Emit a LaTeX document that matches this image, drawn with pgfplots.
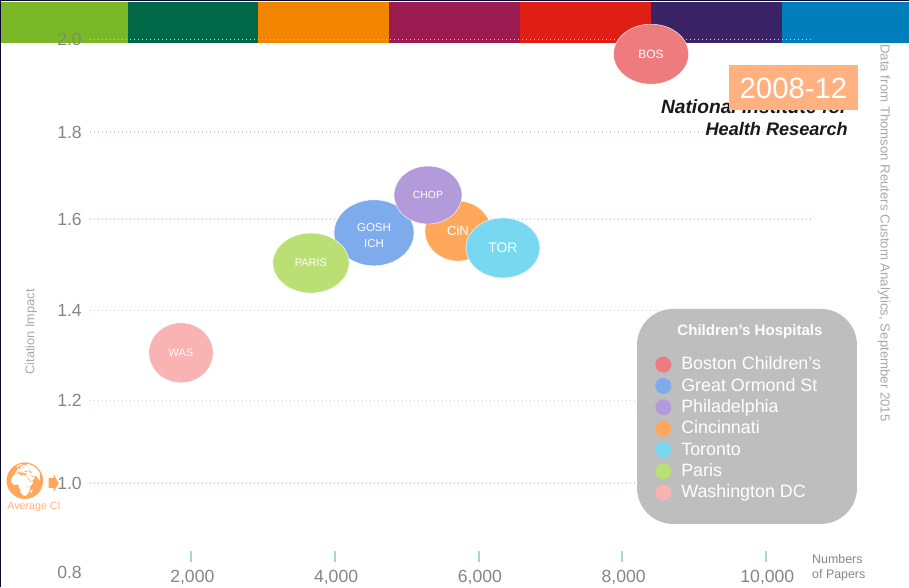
\documentclass[border=0pt]{standalone}
\usepackage{fontspec}
\setmainfont{Liberation Sans}
\newfontfamily\emojifont{Noto Emoji}
\usepackage{pgfplots}
\pgfplotsset{compat=1.18}

\definecolor{bosc}{HTML}{EE7C7E}
\definecolor{goshc}{HTML}{7EABEC}
\definecolor{chopc}{HTML}{B39ADB}
\definecolor{cinc}{HTML}{FFA85C}
\definecolor{torc}{HTML}{78D8F0}
\definecolor{parisc}{HTML}{BAE075}
\definecolor{wasc}{HTML}{F9B3B3}
\definecolor{yeargold}{HTML}{FFB27F}
\definecolor{panel}{HTML}{BEBEBE}
\definecolor{labelgray}{HTML}{858585}
\definecolor{softgray}{HTML}{A8A8A8}
\definecolor{dotline}{HTML}{C4DADA}
\definecolor{tickblue}{HTML}{A8D5DC}
\definecolor{edge}{HTML}{0A0A30}
\definecolor{stripa}{HTML}{7AB828}
\definecolor{stripb}{HTML}{006747}
\definecolor{stripc}{HTML}{F28500}
\definecolor{stripd}{HTML}{991B4F}
\definecolor{stripe}{HTML}{E01F14}
\definecolor{stripf}{HTML}{3B2466}
\definecolor{stripg}{HTML}{007DBB}

% one bubble: colour, x radius / y radius, y radius, label font size
\pgfplotsset{
  bubble/.style n args={4}{
    forget plot, only marks, mark=*, mark size=#3,
    mark options={xscale=#2, fill=#1, draw=white, line width=0.3pt},
    every node near coord/.style={anchor=center, inner sep=0pt, align=center,
      text=white, font=\fontsize{#4}{#4}\selectfont},
  },
  band/.style={forget plot, fill=#1, draw=none},
  gridrow/.style={forget plot, draw=dotline, line width=0.9pt, dash pattern=on 0.8pt off 2.2pt},
}

\begin{document}
\begin{tikzpicture}
\path[use as bounding box] (0,0) rectangle (681.75pt,440.25pt);
\begin{axis}[
    scale only axis,
    width=681.75pt, height=440.25pt,
    xmin=-657, xmax=11989,
    ymin=0.768, ymax=2.0889,
    axis line style={draw=none},
    axis on top,
    major tick length=0pt, minor tick length=0pt,
    clip=false,
    scaled x ticks=false,
    xtick={2000,4000,6000,8000,10000},
    xticklabels={{2,000},{4,000},{6,000},{8,000},{10,000}},
    xticklabel style={font=\fontsize{13.2}{16}\selectfont, text=labelgray, anchor=center, xshift=1pt, yshift=7.5pt, inner sep=0pt},
    ytick={0.8,1.002,1.187,1.391,1.596,1.792,2.0},
    yticklabels={0.8,1.0,1.2,1.4,1.6,1.8,2.0},
    yticklabel style={font=\fontsize{13.2}{16}\selectfont, text=labelgray, anchor=east, xshift=61.5pt, inner sep=0pt},
    xlabel={Numbers\\of Papers},
    xlabel style={at={(axis cs:10639,0.811)}, anchor=west, align=left, inner sep=0pt,
      font=\fontsize{9.3}{11.2}\selectfont, text=labelgray},
    ylabel={Citation Impact},
    ylabel style={at={(axis cs:-226,1.342)}, anchor=center, inner sep=0pt,
      font=\fontsize{9.6}{12}\selectfont, text=softgray},
    unbounded coords=jump,
    legend image code/.code={\fill[draw=none,#1] (0.12cm,1pt) circle (6pt);},
    legend cell align=left,
    legend style={at={(0.7206,0.3952)}, anchor=north west, draw=none, fill=none,
      text=white, font=\fontsize{13.4}{16}\selectfont,
      row sep=0pt, inner sep=0pt,
      nodes={inner sep=0pt, text height=11pt, text depth=5pt}},
]

% colour strip along the top
\addplot[band=stripa] coordinates {(-657,2.0844)(1124,2.0844)(1124,1.992)(-657,1.992)} --cycle;
\addplot[band=stripb] coordinates {(1124,2.0844)(2932,2.0844)(2932,1.992)(1124,1.992)} --cycle;
\addplot[band=stripc] coordinates {(2932,2.0844)(4755,2.0844)(4755,1.992)(2932,1.992)} --cycle;
\addplot[band=stripd] coordinates {(4755,2.0844)(6577,2.0844)(6577,1.992)(4755,1.992)} --cycle;
\addplot[band=stripe] coordinates {(6577,2.0844)(8400,2.0844)(8400,1.992)(6577,1.992)} --cycle;
\addplot[band=stripf] coordinates {(8400,2.0844)(10222,2.0844)(10222,1.992)(8400,1.992)} --cycle;
\addplot[band=stripg] coordinates {(10222,2.0844)(11989,2.0844)(11989,1.992)(10222,1.992)} --cycle;
\addplot[forget plot, draw=edge, line width=1.5pt] coordinates {(-657,0.768)(-657,2.0889)(11989,2.0889)};

% dotted rows
\addplot[gridrow] coordinates {(595,2.0)(10640,2.0)};
\addplot[gridrow] coordinates {(595,1.792)(10640,1.792)};
\addplot[gridrow] coordinates {(595,1.596)(10640,1.596)};
\addplot[gridrow] coordinates {(595,1.391)(10640,1.391)};
\addplot[gridrow] coordinates {(595,1.187)(10640,1.187)};
\addplot[gridrow] coordinates {(595,1.002)(10640,1.002)};

% short marks above the x labels
\addplot[forget plot, draw=tickblue, line width=1.5pt] coordinates {
  (2000,0.849)(2000,0.8245)(3000,nan)
  (4000,0.849)(4000,0.8245)(5000,nan)
  (6000,0.849)(6000,0.8245)(7000,nan)
  (8000,0.849)(8000,0.8245)(9000,nan)
  (10000,0.849)(10000,0.8245)};

% legend panel
\addplot[forget plot, fill=panel, draw=none, rounded corners=27pt] coordinates {
  (9700,1.3937)(11265,1.3937)(11265,0.910)(8205,0.910)(8205,1.3937)} --cycle;
\node[text=white, font=\fontsize{11.3}{14}\bfseries\selectfont, inner sep=0pt] at (axis cs:9777,1.342) {Children's Hospitals};

% hospitals
\addplot[bubble={cinc}{1.1}{22.5pt}{9.8}, nodes near coords={CiN}] coordinates {(5714,1.569)};
\addplot[bubble={goshc}{1.21}{24.75pt}{8.6}, nodes near coords={GOSH\\[3pt]ICH},
  every node near coord/.append style={yshift=-2pt}] coordinates {(4546,1.565)};
\addplot[bubble={chopc}{1.17}{21.75pt}{7.8}, nodes near coords={CHOP}] coordinates {(5297,1.650)};
\addplot[bubble={torc}{1.23}{22.5pt}{10.4}, nodes near coords={TOR}] coordinates {(6340,1.531)};
\addplot[bubble={parisc}{1.27}{22.5pt}{8.2}, nodes near coords={PARIS}] coordinates {(3669,1.497)};
\addplot[bubble={wasc}{1.07}{22.5pt}{8.2}, nodes near coords={WAS}] coordinates {(1861,1.295)};
\addplot[bubble={bosc}{1.25}{22.5pt}{9}, nodes near coords={BOS}] coordinates {(8400,1.967)};

% logo and year tag
\node[anchor=base east, inner sep=0pt, font=\fontsize{14.4}{16}\bfseries\itshape\selectfont, text=black!90]
  at (axis cs:11140,1.8324) {National Institute for};
\node[anchor=base east, inner sep=0pt, font=\fontsize{13.6}{16}\bfseries\itshape\selectfont, text=black!90]
  at (axis cs:11140,1.783) {Health Research};
\addplot[forget plot, fill=yeargold, draw=none] coordinates {(9485,1.9426)(11279,1.9426)(11279,1.8414)(9485,1.8414)} --cycle;
\node[text=white, font=\fontsize{22}{26}\selectfont, inner sep=0pt] at (axis cs:10382,1.889) {2008-12};

% source note and average marker
\node[rotate=-90, text=softgray, font=\fontsize{9.9}{12}\selectfont, inner sep=0pt] at (axis cs:11641,1.5647)
  {Data from Thomson Reuters Custom Analytics, September 2015};
\node[text=yeargold, font=\fontsize{8}{10}\selectfont, inner sep=0pt] at (axis cs:-184,0.948) {Average CI};
\node[text=cinc, font=\emojifont\fontsize{27}{27}\selectfont, inner sep=0pt] at (axis cs:-310,1.007) {🌍};
\addplot[forget plot, fill=cinc, draw=none] coordinates {(20,1.013)(90,1.013)(90,1.022)(160,1.002)(90,0.982)(90,0.991)(20,0.991)} --cycle;

% legend
\addlegendimage{fill=bosc}\addlegendentry{\hspace{7.5pt}Boston Children's}
\addlegendimage{fill=goshc}\addlegendentry{\hspace{7.5pt}Great Ormond St}
\addlegendimage{fill=chopc}\addlegendentry{\hspace{7.5pt}Philadelphia}
\addlegendimage{fill=cinc}\addlegendentry{\hspace{7.5pt}Cincinnati}
\addlegendimage{fill=torc}\addlegendentry{\hspace{7.5pt}Toronto}
\addlegendimage{fill=parisc}\addlegendentry{\hspace{7.5pt}Paris}
\addlegendimage{fill=wasc}\addlegendentry{\hspace{7.5pt}Washington DC}
\end{axis}
\end{tikzpicture}
\end{document}
